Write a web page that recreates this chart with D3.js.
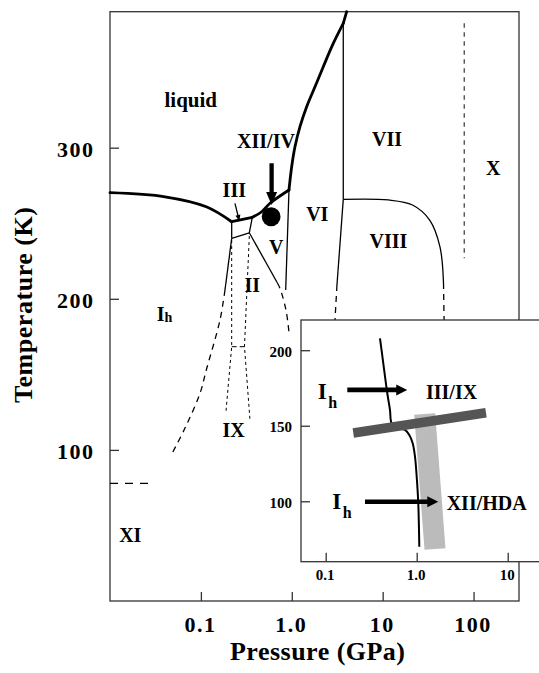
<!DOCTYPE html>
<html>
<head>
<meta charset="utf-8">
<script src="https://cdn.jsdelivr.net/npm/d3@7"></script>
<style>
  body { margin: 0; background: #fff; }
  svg { display: block; }
  text { font-family: "Palatino Linotype", "Book Antiqua", Palatino, "Liberation Serif", serif; font-weight: bold; fill: #000; }
</style>
</head>
<body>
<div id="chart"></div>
<script>
// pressure in GPa, temperature in K
const xTicks = [0.1, 1, 10, 100]
const xTickLabels = ["0.1", "1.0", "10", "100"]
const yTicks = [100, 200, 300]
const insetXTicks = [0.1, 1, 10]
const insetXTickLabels = ["0.1", "1.0", "10"]
const insetYTicks = [100, 150, 200]

// melting curve, piece by piece [P, T]
const meltIh = [[0.01, 270.2], [0.0403, 267.5], [0.1147, 260.9], [0.2182, 251.0]]
const meltIII = [[0.2182, 251.0], [0.2645, 252.1], [0.3678, 253.9]]
const meltV = [[0.3678, 253.9], [0.4666, 257.6], [0.5757, 263.2], [0.9316, 272.0]]
const meltVI = [[0.9316, 272.0], [0.9975, 287.4], [1.0844, 300.6], [1.231, 313.9], [1.458, 327.1], [1.800, 340.3], [2.221, 353.6], [2.861, 369.0], [3.686, 382.3]]
const meltVII = [[3.686, 382.3], [4.018, 390]]

// solid phase boundaries
const lineIhIII = [[0.2182, 251.0], [0.2182, 240.0]]
const lineIIIII = [[0.2182, 240.0], [0.341, 243.7]]
const lineIIIV = [[0.341, 243.7], [0.3678, 253.9]]
const lineIhII = [[0.2182, 240.0], [0.1841, 205.8]]
const lineIIV = [[0.341, 243.7], [0.6927, 210.6]]
const lineVVI = [[0.9316, 272.0], [0.857, 205.8]]
const lineVIVII = [[3.686, 382.3], [3.686, 265.8]]
const lineVIVIII = [[3.686, 265.8], [3.142, 209.1]]
const lineVIIVIII = [[3.686, 265.8], [11.58, 265.4], [21.3, 262.1], [32.9, 252.1], [42.7, 234.4], [46.7, 210.4]]

// dashed (metastable / uncertain) boundaries
const dashIhII = [[0.1841, 205.8], [0.1622, 185.9], [0.1147, 152.9], [0.0977, 137.4], [0.0677, 115.1], [0.0465, 95.9]]
const dashIIV = [[0.6927, 210.6], [0.7418, 206.9], [0.8634, 192.6], [0.9387, 176.0]]
const dashVIVIII = [[3.142, 209.1], [2.988, 185.9]]
const dashVIIVIII = [[46.7, 210.4], [47.4, 185.9]]
const dashVIIX = [[79.0, 382.3], [79.0, 226.8]]
const dashIhXI = [[0.01, 77.9], [0.0277, 77.9]]
const dotIXLeft = [[0.2182, 238.9], [0.2182, 168.3], [0.188, 124.2]]
const dotIXRight = [[0.341, 241.5], [0.3017, 168.3], [0.3468, 119.8]]
const dotIXTop = [[0.2182, 168.3], [0.3017, 168.3]]

// markers
const bigArrow = [[0.6, 289.7], [0.6, 262.1]]
const dotPoint = [0.593, 254.3]
const pointerIII = [[0.237, 263.2], [0.265, 251.5]]

const phaseLabels = [
  {text: "liquid", p: 0.0774, t: 326.9},
  {text: "XII/IV", p: 0.5203, t: 299.6},
  {text: "III", p: 0.2330, t: 267.5},
  {text: "VII", p: 11.15, t: 301.1},
  {text: "X", p: 164.7, t: 281.9},
  {text: "VI", p: 1.908, t: 251.7},
  {text: "VIII", p: 11.58, t: 233.4},
  {text: "V", p: 0.6735, t: 229.6},
  {text: "II", p: 0.3668, t: 204.7},
  {text: "IX", p: 0.2295, t: 108.7},
  {text: "XI", p: 0.01672, t: 39.2}
]
const ihLabel = {p: 0.03264, t: 185.3}

// inset: compression of Ih
const insetCurve = [[0.395, 207.9], [0.4295, 191.3], [0.4753, 171.5], [0.5089, 160.4], [0.5312, 151.6], [0.62, 148.3], [0.7437, 147.2], [0.8292, 143.9], [0.9036, 138.4], [0.9579, 129.5], [1.0, 116.3], [1.041, 98.7], [1.068, 69.9]]
const lightBand = [[1.224, 157.8], [1.589, 68.4]]
const darkBand = [[0.2011, 145.2], [5.774, 158.6]]
const insetArrows = [
  [[0.1727, 173.7], [0.788, 173.7]],
  [[0.2703, 99.7], [1.728, 99.7]]
]
const insetIh = [{p: 0.0817, t: 167.5}, {p: 0.1182, t: 94.7}]
const insetLabels = [
  {text: "III/IX", p: 1.265, t: 167.5},
  {text: "XII/HDA", p: 2.136, t: 94.2}
]

const width = 539
const height = 673
const frame = {left: 110, right: 519, top: 11.7, bottom: 601}
const inset = {left: 301, right: 545, top: 320, bottom: 561.7}

const svg = d3.select("#chart")
  .append("svg")
    .attr("width", width)
    .attr("height", height)

const x = d3.scaleLog().domain([0.01, Math.pow(10, 2.5)]).range([frame.left, frame.right])
const y = d3.scaleLinear().domain([0, 390]).range([frame.bottom, frame.top])

const ix = d3.scaleLog().domain([0.05354, 25.7]).range([inset.left, inset.right])
const iy = d3.scaleLinear().domain([60, 220]).range([inset.bottom, inset.top])

function drawLine(g, data, sx, sy, opts) {
  const line = d3.line()
    .x(d => sx(d[0]))
    .y(d => sy(d[1]))
    .curve(opts.curve || d3.curveLinear)
  g.append("path")
    .attr("d", line(data))
    .attr("fill", "none")
    .attr("stroke", opts.color || "#000")
    .attr("stroke-width", opts.width || 1.3)
    .attr("stroke-dasharray", opts.dash || null)
    .attr("stroke-linecap", opts.cap || "butt")
    .attr("stroke-linejoin", "round")
}

function drawArrow(g, x1, y1, x2, y2, shaft, headLen, headW) {
  const dx = x2 - x1, dy = y2 - y1
  const len = Math.hypot(dx, dy)
  const ux = dx / len, uy = dy / len
  const bx = x2 - ux * headLen, by = y2 - uy * headLen
  g.append("line")
    .attr("x1", x1).attr("y1", y1)
    .attr("x2", bx + ux).attr("y2", by + uy)
    .attr("stroke", "#000")
    .attr("stroke-width", shaft)
  g.append("path")
    .attr("d", `M${x2},${y2}L${bx - uy * headW / 2},${by + ux * headW / 2}L${bx + uy * headW / 2},${by - ux * headW / 2}Z`)
    .attr("fill", "#000")
}

// ---- main plot ----
const main = svg.append("g")

main.append("rect")
  .attr("x", frame.left).attr("y", frame.top)
  .attr("width", frame.right - frame.left).attr("height", frame.bottom - frame.top)
  .attr("fill", "none").attr("stroke", "#333").attr("stroke-width", 1.3)

const catmull = d3.curveCatmullRom.alpha(0.5)

;[meltIh, meltIII, meltV, meltVI, meltVII].forEach(d => drawLine(main, d, x, y, {width: 2.8, curve: catmull, cap: "round"}))

;[lineIhIII, lineIIIII, lineIIIV, lineIhII, lineIIV, lineVVI, lineVIVII, lineVIVIII].forEach(d => drawLine(main, d, x, y, {}))
drawLine(main, lineVIIVIII, x, y, {curve: catmull})

drawLine(main, dashIhII, x, y, {dash: "6,5", curve: catmull})
drawLine(main, dashIIV, x, y, {dash: "6,5", curve: catmull})
drawLine(main, dashVIVIII, x, y, {dash: "6,5"})
drawLine(main, dashVIIVIII, x, y, {dash: "6,5"})
drawLine(main, dashVIIX, x, y, {dash: "4.5,4.5", color: "#444"})
drawLine(main, dashIhXI, x, y, {dash: "8,7", width: 1.2})
drawLine(main, dotIXLeft, x, y, {dash: "3,3", width: 1})
drawLine(main, dotIXRight, x, y, {dash: "3,3", width: 1})
drawLine(main, dotIXTop, x, y, {dash: "5,3", width: 1})

drawArrow(main, x(bigArrow[0][0]), y(bigArrow[0][1]), x(bigArrow[1][0]), y(bigArrow[1][1]), 4.3, 13, 11)
drawArrow(main, x(pointerIII[0][0]), y(pointerIII[0][1]), x(pointerIII[1][0]), y(pointerIII[1][1]), 1.3, 6, 5)

main.append("circle")
  .attr("cx", x(dotPoint[0]))
  .attr("cy", y(dotPoint[1]))
  .attr("r", 9.4)
  .attr("fill", "#000")

main.selectAll(".phase")
  .data(phaseLabels)
  .join("text")
    .attr("class", "phase")
    .attr("x", d => x(d.p))
    .attr("y", d => y(d.t))
    .attr("text-anchor", "middle")
    .attr("font-size", d => d.text === "liquid" ? 21 : 20)
    .text(d => d.text)

const ihText = main.append("text")
  .attr("x", x(ihLabel.p))
  .attr("y", y(ihLabel.t))
  .attr("font-size", 20)
ihText.append("tspan").text("I")
ihText.append("tspan").attr("font-size", 14).attr("dy", 1).text("h")

// main axes
main.append("g")
  .attr("transform", `translate(0,${frame.bottom})`)
  .call(d3.axisBottom(x).tickValues(xTicks).tickFormat(d => xTickLabels[xTicks.indexOf(d)])
    .tickSizeInner(-9).tickSizeOuter(0).tickPadding(15))
  .attr("font-family", null)
  .attr("font-size", 22)
  .call(g => g.select(".domain").remove())
  .call(g => g.selectAll("line").attr("stroke", "#333").attr("stroke-width", 1.3))
  .call(g => g.selectAll("text").attr("dx", -1).attr("letter-spacing", 1.5))

main.append("g")
  .attr("transform", `translate(${frame.left},0)`)
  .call(d3.axisLeft(y).tickValues(yTicks).tickFormat(d3.format("d"))
    .tickSizeInner(-9).tickSizeOuter(0).tickPadding(15.5))
  .attr("font-family", null)
  .attr("font-size", 22)
  .call(g => g.select(".domain").remove())
  .call(g => g.selectAll("line").attr("stroke", "#333").attr("stroke-width", 1.3))
  .call(g => g.selectAll("text").attr("dy", "0.4em").attr("letter-spacing", 1.5))

svg.append("text")
  .attr("x", 317.5)
  .attr("y", 660)
  .attr("text-anchor", "middle")
  .attr("font-size", 26)
  .attr("textLength", 175)
  .attr("lengthAdjust", "spacing")
  .text("Pressure  (GPa)")

svg.append("text")
  .attr("transform", "translate(32,305) rotate(-90)")
  .attr("text-anchor", "middle")
  .attr("font-size", 26)
  .attr("textLength", 196)
  .attr("lengthAdjust", "spacing")
  .text("Temperature (K)")

// ---- inset ----
const ins = svg.append("g")

ins.append("rect")
  .attr("x", inset.left).attr("y", inset.top)
  .attr("width", inset.right - inset.left).attr("height", inset.bottom - inset.top)
  .attr("fill", "#fff").attr("stroke", "#333").attr("stroke-width", 1.3)

drawLine(ins, lightBand, ix, iy, {width: 21, color: "#bbbbbb"})
drawLine(ins, insetCurve, ix, iy, {width: 2, curve: catmull})
drawLine(ins, darkBand, ix, iy, {width: 9.5, color: "#555555"})

insetArrows.forEach(a => drawArrow(ins, ix(a[0][0]), iy(a[0][1]), ix(a[1][0]), iy(a[1][1]), 4.7, 11, 11))

insetIh.forEach(d => {
  const t = ins.append("text")
    .attr("x", ix(d.p))
    .attr("y", iy(d.t))
    .attr("font-size", 23)
  t.append("tspan").text("I")
  t.append("tspan").attr("font-size", 16).attr("dx", 1.5).attr("dy", 8.5).text("h")
})

ins.selectAll(".ilabel")
  .data(insetLabels)
  .join("text")
    .attr("class", "ilabel")
    .attr("x", d => ix(d.p))
    .attr("y", d => iy(d.t))
    .attr("font-size", 20)
    .text(d => d.text)

ins.append("g")
  .attr("transform", `translate(0,${inset.bottom})`)
  .call(d3.axisBottom(ix).tickValues(insetXTicks).tickFormat(d => insetXTickLabels[insetXTicks.indexOf(d)])
    .tickSizeInner(-9).tickSizeOuter(0).tickPadding(7.7))
  .attr("font-family", null)
  .attr("font-size", 15)
  .call(g => g.select(".domain").remove())
  .call(g => g.selectAll("line").attr("stroke", "#333").attr("stroke-width", 1.3))
  .call(g => g.selectAll("text").attr("dx", -1))

ins.append("g")
  .attr("transform", `translate(${inset.left},0)`)
  .call(d3.axisLeft(iy).tickValues(insetYTicks).tickFormat(d3.format("d"))
    .tickSizeInner(-9).tickSizeOuter(0).tickPadding(9))
  .attr("font-family", null)
  .attr("font-size", 15)
  .call(g => g.select(".domain").remove())
  .call(g => g.selectAll("line").attr("stroke", "#333").attr("stroke-width", 1.3))
  .call(g => g.selectAll("text").attr("dy", "0.4em"))
</script>
</body>
</html>
